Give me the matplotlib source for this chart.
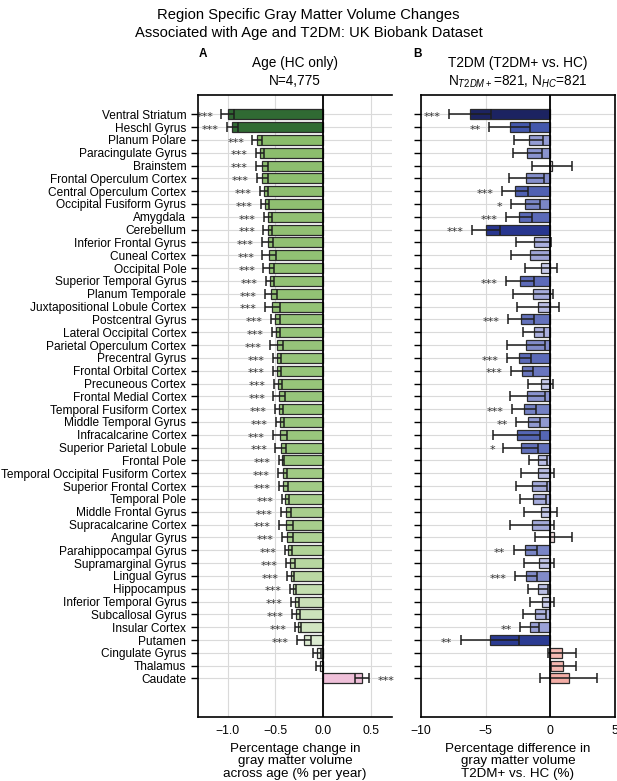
import matplotlib
matplotlib.use("Agg")
import matplotlib.pyplot as plt
import numpy as np
from matplotlib.colors import LinearSegmentedColormap, Normalize

plt.rcParams['font.family'] = ['Liberation Sans', 'DejaVu Sans']
plt.rcParams['mathtext.fontset'] = 'custom'
plt.rcParams['mathtext.rm'] = 'Liberation Sans'
plt.rcParams['mathtext.it'] = 'Liberation Sans:italic'

regions = [
    "Ventral Striatum", "Heschl Gyrus", "Planum Polare", "Paracingulate Gyrus",
    "Brainstem", "Frontal Operculum Cortex", "Central Operculum Cortex",
    "Occipital Fusiform Gyrus", "Amygdala", "Cerebellum", "Inferior Frontal Gyrus",
    "Cuneal Cortex", "Occipital Pole", "Superior Temporal Gyrus", "Planum Temporale",
    "Juxtapositional Lobule Cortex", "Postcentral Gyrus", "Lateral Occipital Cortex",
    "Parietal Operculum Cortex", "Precentral Gyrus", "Frontal Orbital Cortex",
    "Precuneous Cortex", "Frontal Medial Cortex", "Temporal Fusiform Cortex",
    "Middle Temporal Gyrus", "Infracalcarine Cortex", "Superior Parietal Lobule",
    "Frontal Pole", "Temporal Occipital Fusiform Cortex", "Superior Frontal Cortex",
    "Temporal Pole", "Middle Frontal Gyrus", "Supracalcarine Cortex", "Angular Gyrus",
    "Parahippocampal Gyrus", "Supramarginal Gyrus", "Lingual Gyrus", "Hippocampus",
    "Inferior Temporal Gyrus", "Subcallosal Gyrus", "Insular Cortex", "Putamen",
    "Cingulate Gyrus", "Thalamus", "Caudate",
]

# panel A: % change per year (HC only)
age_change = [
    -1.00, -0.95, -0.69, -0.66, -0.64, -0.635, -0.62, -0.61, -0.58, -0.58,
    -0.58, -0.565, -0.57, -0.555, -0.545, -0.53, -0.50, -0.495, -0.485, -0.485,
    -0.48, -0.475, -0.46, -0.46, -0.45, -0.45, -0.445, -0.435, -0.425, -0.415,
    -0.395, -0.39, -0.39, -0.375, -0.365, -0.345, -0.34, -0.315, -0.295, -0.285,
    -0.26, -0.20, -0.065, -0.035, 0.41,
]
age_err = [
    0.065, 0.06, 0.05, 0.04, 0.065, 0.057, 0.045, 0.04, 0.04, 0.045,
    0.06, 0.07, 0.055, 0.045, 0.06, 0.075, 0.05, 0.04, 0.07, 0.04,
    0.043, 0.043, 0.06, 0.043, 0.042, 0.076, 0.055, 0.025, 0.05, 0.048,
    0.04, 0.052, 0.076, 0.06, 0.036, 0.048, 0.038, 0.035, 0.043, 0.038,
    0.033, 0.078, 0.043, 0.038, 0.075,
]
age_stars = ["***"] * 42 + ["", "", "***"]

# panel B: % difference T2DM+ vs HC
t2dm_diff = [
    -6.2, -3.15, -1.67, -1.77, 0.15, -1.85, -2.76, -1.95, -2.42, -4.95,
    -1.3, -1.54, -0.7, -2.37, -1.35, -0.96, -2.27, -1.3, -1.88, -2.4,
    -2.21, -0.73, -1.77, -2.03, -1.72, -2.6, -2.29, -0.94, -0.99, -1.43,
    -1.35, -0.76, -1.43, 0.25, -1.95, -0.86, -1.9, -0.94, -0.63, -1.22,
    -1.59, -4.69, 0.91, 1.0, 1.43,
]
t2dm_err = [
    1.6, 1.56, 1.12, 1.09, 1.55, 1.33, 1.0, 1.12, 1.0, 1.1,
    1.33, 1.53, 1.24, 1.07, 1.53, 1.6, 1.0, 0.8, 1.5, 0.94,
    0.86, 0.96, 1.38, 0.91, 0.91, 1.83, 1.35, 0.7, 1.25, 1.2,
    1.0, 1.24, 1.7, 1.4, 0.89, 1.17, 0.86, 0.75, 0.93, 0.9,
    0.73, 2.24, 1.08, 0.96, 2.2,
]
t2dm_stars = [
    "***", "**", "", "", "", "", "***", "*", "***", "***",
    "", "", "", "***", "", "", "***", "", "", "***",
    "***", "", "", "***", "**", "", "*", "", "", "",
    "", "", "", "", "**", "", "***", "", "", "",
    "**", "**", "", "", "",
]


def value_cmap(nodes):
    vals = [n[0] for n in nodes]
    lo, hi = vals[0], vals[-1]
    pts = [((v - lo) / (hi - lo), c) for v, c in nodes]
    return LinearSegmentedColormap.from_list("c", pts), Normalize(lo, hi)


green_cmap, green_norm = value_cmap([
    (-1.1, "#2c6630"), (-0.9, "#336e35"), (-0.75, "#87b967"), (-0.45, "#98c67c"),
    (-0.38, "#abd090"), (-0.3, "#c9e1b7"), (-0.2, "#dcebd0"), (0.0, "#f6f8f3"),
    (0.5, "#eeb4d4"),
])
blue_cmap, blue_norm = value_cmap([
    (-7.0, "#141a52"), (-6.2, "#1c2361"), (-5.0, "#27358e"), (-4.6, "#2c3d94"),
    (-3.2, "#4357ab"), (-2.4, "#5b6ab8"), (-2.0, "#7682c4"), (-1.6, "#9aa1d6"),
    (-1.2, "#aeb3e0"), (-0.7, "#c6c9ea"), (0.0, "#ececf5"), (0.4, "#f8dcd8"),
    (0.9, "#f5b9b3"), (2.0, "#f0a098"),
])

y = np.arange(len(regions))

fig = plt.figure(figsize=(6.17, 7.81), dpi=100)
ax_a = fig.add_axes([0.321, 0.082, 0.314, 0.7964])
ax_b = fig.add_axes([0.682, 0.082, 0.315, 0.7964])


def draw_panel(ax, vals, errs, stars, cmap, norm):
    vals = np.array(vals)
    errs = np.array(errs)
    ax.set_axisbelow(True)
    ax.grid(True, color="#dadada", lw=0.8)
    ax.barh(y, vals, height=0.78, color=cmap(norm(vals)),
            edgecolor="#2b2b2b", linewidth=0.9, zorder=2)
    ax.errorbar(vals, y, xerr=errs, fmt="none", ecolor="#1e1e1e",
                elinewidth=1.1, capsize=3.6, capthick=1.1, zorder=3)
    ax.axvline(0, color="black", lw=1.3, zorder=4)
    for yi, v, e, s in zip(y, vals, errs, stars):
        if not s:
            continue
        if v < 0:
            ax.annotate(s, (v - e, yi), xytext=(-6, -2), textcoords="offset points",
                        ha="right", va="center", fontsize=8, color="#333333",
                        family="DejaVu Sans")
        else:
            ax.annotate(s, (v + e, yi), xytext=(6, -2), textcoords="offset points",
                        ha="left", va="center", fontsize=8, color="#333333",
                        family="DejaVu Sans")
    ax.set_ylim(47.0, -1.5)
    ax.set_yticks(y)
    ax.tick_params(axis="y", length=5, width=1, color="black")
    ax.tick_params(axis="x", length=0, pad=6, labelsize=8.7)
    for sp in ax.spines.values():
        sp.set_linewidth(1.2)
        sp.set_color("black")


draw_panel(ax_a, age_change, age_err, age_stars, green_cmap, green_norm)
ax_a.set_xlim(-1.31, 0.72)
ax_a.set_xticks([-1.0, -0.5, 0.0, 0.5])
ax_a.set_xticklabels(["\u22121.0", "\u22120.5", "0.0", "0.5"])
ax_a.set_yticklabels(regions, fontsize=8.6)
ax_a.spines["right"].set_visible(False)
ax_a.set_xlabel("Percentage change in\ngray matter volume\nacross age (% per year)",
                fontsize=9.6, linespacing=1.05, labelpad=4)

draw_panel(ax_b, t2dm_diff, t2dm_err, t2dm_stars, blue_cmap, blue_norm)
ax_b.set_xlim(-10, 5)
ax_b.set_xticks([-10, -5, 0, 5])
ax_b.set_xticklabels(["\u221210", "\u22125", "0", "5"])
ax_b.set_yticklabels([])
ax_b.set_xlabel("Percentage difference in\ngray matter volume\nT2DM+ vs. HC (%)",
                fontsize=9.6, linespacing=1.05, labelpad=4)

fig.text(0.5, 0.990, "Region Specific Gray Matter Volume Changes\nAssociated with Age and T2DM: UK Biobank Dataset",
         ha="center", va="top", fontsize=10.6, linespacing=1.35)
fig.text(0.478, 0.928, "Age (HC only)\nN=4,775", ha="center", va="top",
         fontsize=9.8, linespacing=1.3)
fig.text(0.8395, 0.928, "T2DM (T2DM+ vs. HC)\nN$_{T2DM+}$=821, N$_{HC}$=821",
         ha="center", va="top", fontsize=9.8, linespacing=1.3)
fig.text(0.322, 0.938, "A", ha="left", va="top", fontsize=8.5, fontweight="bold")
fig.text(0.669, 0.938, "B", ha="left", va="top", fontsize=8.5, fontweight="bold")

fig.savefig("out.png", dpi=100)
